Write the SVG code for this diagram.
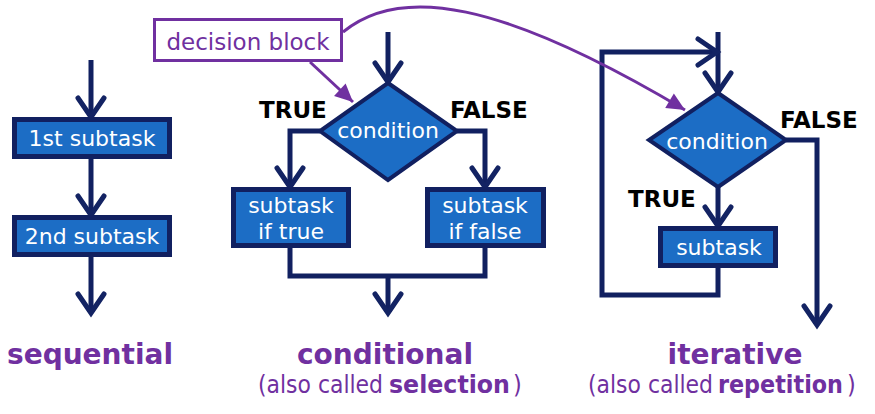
<svg xmlns="http://www.w3.org/2000/svg" width="875" height="414" viewBox="0 0 875 414">
  <defs>
    <marker id="vhead" markerUnits="userSpaceOnUse" markerWidth="30" markerHeight="30" refX="0" refY="0" orient="auto" overflow="visible">
      <path d="M-19,-13 L0,0 L-19,13" fill="none" stroke="#132363" stroke-width="5" stroke-linejoin="miter" stroke-linecap="round"/>
    </marker>
    <marker id="phead" markerUnits="userSpaceOnUse" markerWidth="30" markerHeight="30" refX="0" refY="0" orient="auto" overflow="visible">
      <path d="M-18,-8.5 L0,0 L-18,8.5 Z" fill="#7030a0" stroke="none"/>
    </marker>
    <style>
      .box { fill: #1c6dc5; stroke: #112060; stroke-width: 5; }
      .dia { fill: #1c6dc5; stroke: #112060; stroke-width: 4; stroke-linejoin: miter; }
      .wt { fill: #ffffff; font-family: "DejaVu Sans", Verdana, sans-serif; font-size: 22px; text-anchor: middle; }
      .lbl { fill: #000000; font-family: "DejaVu Sans", Verdana, sans-serif; font-weight: bold; font-size: 23px; }
      .con { fill: none; stroke: #112060; stroke-width: 5; stroke-linejoin: miter; }
      .arr { marker-end: url(#vhead); }
      .pur { fill: none; stroke: #7030a0; stroke-width: 3; marker-end: url(#phead); }
      .title { fill: #7030a0; font-family: "DejaVu Sans", Verdana, sans-serif; font-weight: bold; font-size: 28px; text-anchor: middle; }
      .sub { fill: #7030a0; font-family: "DejaVu Sans Condensed", "DejaVu Sans", sans-serif; font-size: 25px; }
      .subb { fill: #7030a0; font-family: "DejaVu Sans", Verdana, sans-serif; font-weight: bold; font-size: 25px; }
    </style>
  </defs>
  <rect width="875" height="414" fill="#ffffff"/>

  <g id="connectors">
    <!-- sequential -->
    <line class="con arr" x1="91" y1="60" x2="91" y2="117"/>
    <line class="con arr" x1="91" y1="159" x2="91" y2="215"/>
    <line class="con arr" x1="91" y1="257" x2="91" y2="313"/>
    <!-- conditional -->
    <line class="con arr" x1="388" y1="32" x2="388" y2="82"/>
    <polyline class="con arr" points="320,131 290,131 290,187"/>
    <polyline class="con arr" points="457,131 485,131 485,187"/>
    <polyline class="con" points="290,248 290,276 485,276 485,248"/>
    <line class="con arr" x1="388" y1="276" x2="388" y2="313"/>
    <!-- iterative -->
    <line class="con arr" x1="718" y1="32" x2="718" y2="92"/>
    <polyline class="con arr" points="718,268 718,295 602,295 602,52 717,52"/>
    <line class="con arr" x1="718" y1="187" x2="718" y2="226"/>
    <polyline class="con arr" points="786,140 817,140 817,325"/>
    <!-- callouts -->
    <line class="pur" x1="310" y1="62" x2="353" y2="102"/>
    <path class="pur" d="M343,32 C400,-15 500,0 685,110"/>
  </g>

  <g id="decision-block">
    <rect x="154.5" y="19.5" width="187" height="41" fill="#ffffff" stroke="#7030a0" stroke-width="3"/>
    <text x="248" y="50" fill="#7030a0" font-family="DejaVu Sans, Verdana, sans-serif" font-size="23" text-anchor="middle">decision block</text>
  </g>

  <g id="seq-1">
    <rect class="box" x="14.5" y="119.5" width="155" height="37"/>
    <text class="wt" x="92" y="146" font-size="23">1st subtask</text>
  </g>
  <g id="seq-2">
    <rect class="box" x="14.5" y="217.5" width="155" height="37"/>
    <text class="wt" x="92" y="244" font-size="23">2nd subtask</text>
  </g>

  <g id="cond-decision">
    <polygon class="dia" points="388,83 457,131 388,180 320,131"/>
    <text class="wt" x="388" y="138">condition</text>
  </g>
  <g id="cond-true">
    <rect class="box" x="233.5" y="189.5" width="115" height="56"/>
    <text class="wt" x="291" y="213">subtask</text>
    <text class="wt" x="291" y="239">if true</text>
  </g>
  <g id="cond-false">
    <rect class="box" x="427.5" y="189.5" width="116" height="56"/>
    <text class="wt" x="485" y="213">subtask</text>
    <text class="wt" x="485" y="239">if false</text>
  </g>

  <g id="iter-decision">
    <polygon class="dia" points="718,93 786,140 718,187 649,140"/>
    <text class="wt" x="717" y="149">condition</text>
  </g>
  <g id="iter-subtask">
    <rect class="box" x="660.5" y="228.5" width="115" height="37"/>
    <text class="wt" x="719" y="255">subtask</text>
  </g>

  <g id="labels">
    <text class="lbl" x="259" y="118">TRUE</text>
    <text class="lbl" x="450" y="118">FALSE</text>
    <text class="lbl" x="780" y="128">FALSE</text>
    <text class="lbl" x="628" y="207">TRUE</text>
  </g>

  <g id="captions">
    <text class="title" x="90" y="364">sequential</text>
    <text class="title" x="385" y="364">conditional</text>
    <text class="sub" x="258" y="393" textLength="125" lengthAdjust="spacingAndGlyphs">(also called</text>
    <text class="subb" x="389" y="393" textLength="121" lengthAdjust="spacingAndGlyphs">selection</text>
    <text class="sub" x="513" y="393">)</text>
    <text class="title" x="735" y="364">iterative</text>
    <text class="sub" x="588" y="393" textLength="125" lengthAdjust="spacingAndGlyphs">(also called</text>
    <text class="subb" x="718" y="393" textLength="125" lengthAdjust="spacingAndGlyphs">repetition</text>
    <text class="sub" x="847" y="393">)</text>
  </g>
</svg>
